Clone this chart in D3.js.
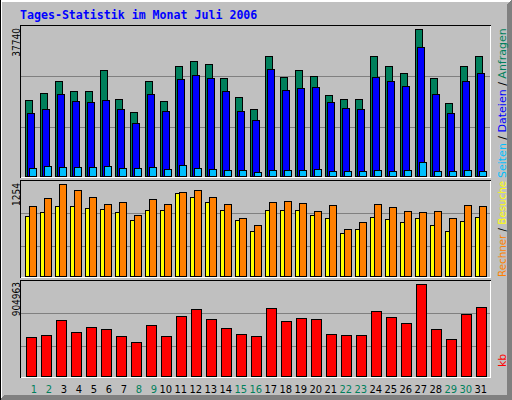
<!DOCTYPE html>
<html><head><meta charset="utf-8">
<script src="https://cdn.jsdelivr.net/npm/d3@7/dist/d3.min.js"></script>
<style>body{margin:0;background:#fff}svg{display:block}</style>
</head><body>
<script>
// ---- data ----
const days = [1,2,3,4,5,6,7,8,9,10,11,12,13,14,15,16,17,18,19,20,21,22,23,24,25,26,27,28,29,30,31];
const weekendDays = [1,2,8,9,15,16,22,23,29,30];
const hits   = [19440,21230,24310,21750,21750,27140,19690,16350,24310,19180,28160,29450,28680,25080,20210,17120,30730,25340,27140,25600,20720,19690,19690,30730,28160,26370,37740,25080,18660,28160,30730];
const files  = [16100,17200,20980,19180,18920,19440,17200,13530,20980,16610,24830,25850,25080,21750,16610,14300,27390,22000,22520,22770,18920,17380,17120,25340,24310,23030,33040,20980,16100,24310,26370];
const pages  = [2050,2570,2310,2310,2310,2570,2050,2050,2310,1800,2820,2050,1800,1540,1540,1030,1460,1460,1460,1720,1210,1210,1210,1460,1210,1460,3520,1210,1210,1460,1210];
const visits = [814,868,950,950,923,909,868,759,896,896,1127,1073,1005,896,759,609,896,896,896,827,786,582,637,800,773,732,786,691,609,746,800];
const sites  = [950,1059,1254,1168,1073,977,1005,827,1045,977,1141,1168,1073,977,786,691,1005,1018,991,882,964,637,732,977,936,882,868,882,786,964,950];
const kbytes = [380680,400350,547900,429860,479040,459370,390510,331490,498710,390510,587240,656100,557730,469210,410190,390510,665940,538060,567570,557730,410190,400350,400350,636430,577410,518390,904963,459370,361000,606920,675770];
const maxLabels = ["37740","1254","904963"];
const title = "Tages-Statistik im Monat Juli 2006";

// ---- layout ----
const W = 512, H = 400;
const svg = d3.select("body").append("svg").attr("width", W).attr("height", H)
  .attr("shape-rendering", "crispEdges");

const C = {bg:"#c0c0c0", dk:"#808080", hit:"#00805c", file:"#0000ff", page:"#00c0ff",
           visit:"#ffff00", site:"#ff8000", kb:"#ff0000", wk:"#00805c"};

// frame
svg.append("rect").attr("width", W).attr("height", H).attr("fill", C.bg);
svg.append("polygon").attr("points", "0,0 512,0 510,2 2,2 2,398 0,400").attr("fill", "#ffffff");
svg.append("polygon").attr("points", "512,0 512,400 0,400 4,395 507,395 507,4").attr("fill", C.dk);
svg.append("rect").attr("x",0).attr("y",0).attr("width",1).attr("height",400).attr("fill","#000");

const x = d3.scaleBand().domain(days).range([25, 25 + 15 * days.length]).padding(0);

const panels = [
  {top:25, base:176, max:37740, topY:29, grid:[76,127]},
  {top:180, base:276, max:1254, topY:184, grid:[213,246]},
  {top:280, base:376, max:904963, topY:284, grid:[313,346]}
];
panels.forEach(p => { p.y = d3.scaleLinear().domain([0, p.max]).range([p.base, p.topY]); });

// gridlines
panels.forEach(p => {
  svg.selectAll(null).data(p.grid).enter().append("line")
    .attr("x1", 21).attr("x2", 490).attr("y1", d => d + 0.5).attr("y2", d => d + 0.5)
    .attr("stroke", C.dk);
});

function bars(values, p, dx, w, color) {
  svg.append("g").selectAll("rect").data(values).enter().append("rect")
    .attr("x", (v, i) => x(days[i]) + dx + 0.5)
    .attr("y", v => Math.round(p.y(v)) + 0.5)
    .attr("width", w)
    .attr("height", v => p.base - Math.round(p.y(v)))
    .attr("fill", color).attr("stroke", "#000");
}
bars(hits, panels[0], 0, 7, C.hit);
bars(files, panels[0], 2, 7, C.file);
bars(pages, panels[0], 4, 7, C.page);
bars(visits, panels[1], 0, 7, C.visit);
bars(sites, panels[1], 4, 7, C.site);
bars(kbytes, panels[2], 1, 10, C.kb);

// panel borders (inset)
panels.forEach(p => {
  const b = p.base + 1;
  svg.append("line").attr("x1",20).attr("x2",491).attr("y1",p.top+0.5).attr("y2",p.top+0.5).attr("stroke","#000");
  svg.append("line").attr("x1",20.5).attr("x2",20.5).attr("y1",p.top).attr("y2",b+1).attr("stroke","#000");
  svg.append("line").attr("x1",21).attr("x2",491).attr("y1",b+0.5).attr("y2",b+0.5).attr("stroke","#fff");
  svg.append("line").attr("x1",490.5).attr("x2",490.5).attr("y1",p.top+1).attr("y2",b+1).attr("stroke","#fff");
});

// title
svg.append("text").attr("x", 20).attr("y", 19)
  .attr("font-family", "'DejaVu Sans Mono', monospace").attr("font-weight", "bold")
  .attr("font-size", "11.6px").attr("fill", "#0000ff").text(title);

// y max labels
const ylab = [28, 183, 282];
maxLabels.forEach((t, i) => {
  svg.append("text").attr("transform", `translate(19.5,${ylab[i]}) rotate(-90)`)
    .attr("text-anchor", "end")
    .attr("font-family", "'DejaVu Sans Condensed','DejaVu Sans',sans-serif")
    .attr("font-stretch", "condensed")
    .attr("font-size", "10px").attr("fill", "#000").text(t);
});

// x labels
svg.append("g").selectAll("text").data(days).enter().append("text")
  .attr("x", d => x(d) + 12).attr("y", 393)
  .attr("text-anchor", "end")
  .attr("font-family", "'DejaVu Sans Condensed','DejaVu Sans',sans-serif")
  .attr("font-stretch", "condensed")
  .attr("font-size", "11px")
  .attr("fill", d => weekendDays.includes(d) ? C.wk : "#000")
  .text(d => d);

// right legends
function legend(parts, yStart, size) {
  const t = svg.append("text").attr("transform", `translate(506,${yStart}) rotate(-90)`)
    .attr("font-family", "'DejaVu Sans',sans-serif").attr("font-size", size + "px");
  parts.forEach(([s, c]) => t.append("tspan").attr("fill", c).text(s));
}
legend([["Seiten", C.page], [" / ", "#000"], ["Dateien", C.file], [" / ", "#000"], ["Anfragen", C.hit]], 178, 11);
legend([["Rechner", C.site], [" / ", "#000"], ["Besuche", C.visit]], 277, 10.3);
legend([["kb", C.kb]], 367, 11);
</script>
</body></html>
